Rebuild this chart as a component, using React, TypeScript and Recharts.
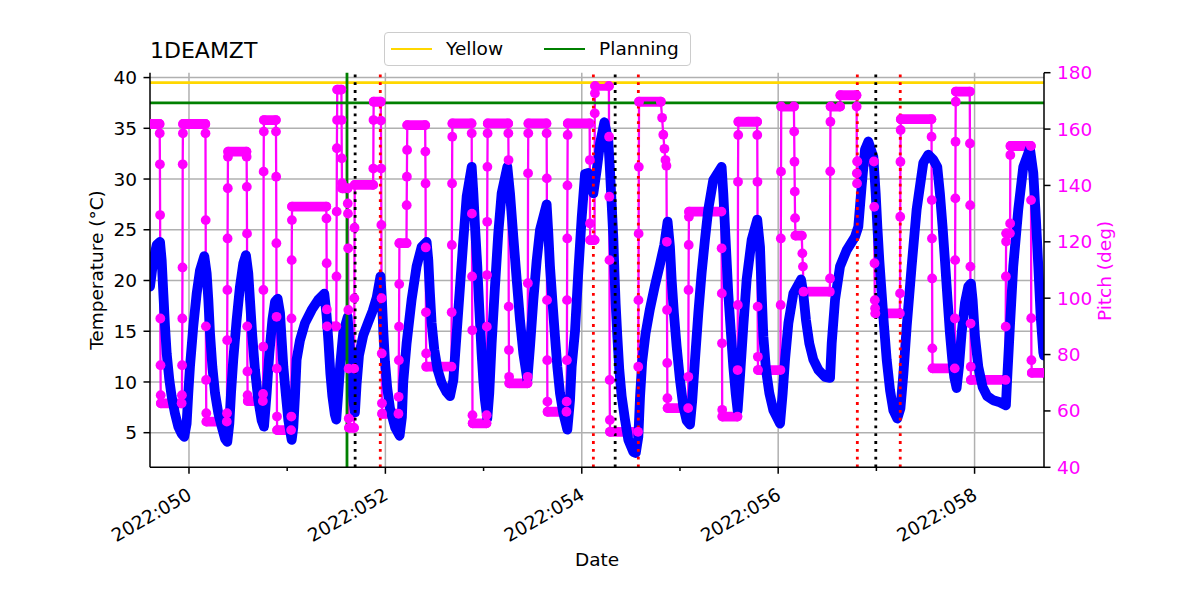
import React from 'react';
import { LineChart, Line, XAxis, YAxis, CartesianGrid, ReferenceLine, Legend } from 'recharts';

const FONT = '"DejaVu Sans", sans-serif';

// ---- axes ----
const dayDomain: [number, number] = [49.603, 58.707];
const tempDomain: [number, number] = [1.59, 40.48];
const pitchDomain: [number, number] = [40, 180];
const dayTicks = [50, 51, 52, 53, 54, 55, 56, 57, 58];
const dayGrid = [50, 52, 54, 56, 58];
const tempTicks = [5, 10, 15, 20, 25, 30, 35, 40];
const pitchTicks = [40, 60, 80, 100, 120, 140, 160, 180];

// ---- limits and events ----
const yellowLimit = 39.5;
const planningLimit = 37.5;
const planningDay = 51.609;
const blackEventDays = [51.692, 54.34, 56.994];
const redEventDays = [51.948, 54.118, 54.576, 56.806, 57.243];

// ---- 1DEAMZT temperature (day of year, deg C) ----
const tempDay = [
  49.603, 49.637, 49.671, 49.705, 49.722, 49.739, 49.756, 49.773, 49.8, 49.823, 49.857, 49.891, 49.925, 49.952,
  49.976, 49.993, 50.01, 50.044, 50.078, 50.112, 50.156, 50.18, 50.197, 50.214, 50.238, 50.265, 50.299, 50.333,
  50.367, 50.39, 50.411, 50.428, 50.451, 50.485, 50.519, 50.553, 50.58, 50.604, 50.621, 50.645, 50.672, 50.706,
  50.74, 50.764, 50.791, 50.818, 50.849, 50.876, 50.903, 50.927, 50.944, 50.961, 50.985, 51.012, 51.046, 51.062,
  51.079, 51.096, 51.13, 51.181, 51.249, 51.317, 51.378, 51.401, 51.42, 51.44, 51.46, 51.485, 51.5, 51.52,
  51.54, 51.571, 51.616, 51.639, 51.656, 51.673, 51.69, 51.707, 51.731, 51.775, 51.826, 51.87, 51.911, 51.95,
  51.965, 51.98, 51.996, 52.019, 52.047, 52.1, 52.145, 52.168, 52.182, 52.216, 52.267, 52.318, 52.369, 52.42,
  52.437, 52.454, 52.471, 52.498, 52.532, 52.573, 52.623, 52.658, 52.692, 52.726, 52.76, 52.794, 52.828, 52.879,
  52.896, 52.913, 52.936, 52.957, 52.98, 52.997, 53.014, 53.038, 53.058, 53.082, 53.116, 53.15, 53.184, 53.242,
  53.269, 53.303, 53.337, 53.371, 53.405, 53.446, 53.473, 53.507, 53.541, 53.575, 53.642, 53.659, 53.676, 53.7,
  53.727, 53.751, 53.778, 53.812, 53.853, 53.88, 53.897, 53.931, 53.965, 53.999, 54.033, 54.067, 54.118, 54.152,
  54.186, 54.23, 54.27, 54.287, 54.304, 54.321, 54.332, 54.345, 54.362, 54.382, 54.406, 54.44, 54.474, 54.525,
  54.55, 54.576, 54.593, 54.615, 54.65, 54.694, 54.745, 54.796, 54.84, 54.874, 54.898, 54.915, 54.938, 54.966,
  55.0, 55.034, 55.068, 55.102, 55.125, 55.153, 55.187, 55.22, 55.254, 55.288, 55.339, 55.424, 55.441, 55.458,
  55.475, 55.492, 55.519, 55.543, 55.567, 55.587, 55.611, 55.645, 55.679, 55.73, 55.787, 55.815, 55.832, 55.849,
  55.876, 55.91, 55.951, 56.019, 56.046, 56.07, 56.104, 56.154, 56.233, 56.256, 56.283, 56.317, 56.358, 56.409,
  56.477, 56.528, 56.545, 56.579, 56.63, 56.698, 56.782, 56.816, 56.85, 56.884, 56.918, 56.969, 56.993, 57.01,
  57.03, 57.054, 57.078, 57.105, 57.139, 57.173, 57.213, 57.245, 57.275, 57.309, 57.359, 57.41, 57.478, 57.529,
  57.579, 57.62, 57.647, 57.674, 57.698, 57.725, 57.749, 57.773, 57.793, 57.817, 57.841, 57.868, 57.902, 57.936,
  57.963, 57.98, 58.004, 58.038, 58.082, 58.129, 58.19, 58.258, 58.319, 58.333, 58.36, 58.394, 58.445, 58.496,
  58.564, 58.598, 58.625, 58.649, 58.673, 58.7, 58.707,
];
const tempDegC = [
  19.4, 22.0, 23.5, 23.8, 22.0, 18.7, 15.5, 12.8, 10.2, 8.6, 6.9, 5.6, 4.9, 4.6,
  5.9, 8.9, 11.5, 15.5, 18.7, 21.0, 22.4, 20.7, 18.1, 14.8, 11.5, 8.9, 6.9, 5.6,
  4.4, 4.1, 5.9, 8.9, 12.2, 16.1, 19.4, 21.7, 22.5, 20.7, 18.1, 14.5, 11.2, 8.2,
  6.2, 5.6, 8.9, 12.8, 16.1, 17.9, 18.2, 16.8, 14.1, 11.5, 8.9, 6.2, 4.3, 5.5,
  8.5, 12.2, 14.1, 15.8, 17.1, 18.1, 18.7, 16.6, 14.0, 10.8, 8.6, 6.8, 6.3, 8.9,
  11.7, 14.9, 16.4, 13.2, 10.3, 8.2, 7.0, 9.8, 12.6, 14.6, 15.9, 17.0, 18.3, 20.4,
  18.0, 14.8, 12.0, 9.4, 7.4, 5.5, 4.7, 6.5, 10.0, 13.8, 18.1, 21.4, 23.3, 23.8,
  22.0, 18.7, 15.8, 13.2, 11.2, 9.9, 9.0, 8.6, 10.2, 14.8, 19.4, 24.0, 28.3, 31.2,
  28.6, 25.3, 21.4, 17.1, 12.8, 10.2, 8.2, 6.4, 8.9, 13.8, 19.4, 24.7, 28.6, 31.2,
  28.6, 24.3, 20.1, 16.1, 12.8, 10.2, 13.5, 18.1, 22.0, 25.0, 27.5, 24.7, 21.4, 18.1,
  14.5, 11.5, 8.9, 6.9, 5.3, 8.2, 11.5, 15.0, 20.9, 26.2, 30.5, 30.6, 28.6, 30.9,
  33.5, 35.6, 33.8, 30.9, 27.6, 24.3, 21.0, 17.7, 14.5, 11.2, 8.6, 6.3, 4.3, 3.1,
  3.0, 4.6, 8.5, 12.0, 14.8, 17.2, 19.5, 21.6, 23.5, 25.8, 23.3, 20.1, 16.8, 13.5,
  10.2, 7.6, 6.2, 5.8, 8.2, 12.2, 16.8, 20.7, 24.0, 27.0, 29.9, 31.2, 28.6, 25.3,
  22.0, 18.7, 14.8, 11.5, 8.9, 7.2, 10.5, 15.5, 20.1, 24.0, 26.0, 23.3, 18.7, 14.5,
  11.2, 8.9, 7.2, 5.9, 8.9, 12.2, 15.8, 18.7, 20.1, 18.7, 16.1, 13.8, 12.2, 11.2,
  10.5, 10.4, 13.8, 18.1, 21.4, 23.0, 24.3, 25.3, 29.3, 32.9, 33.7, 32.2, 28.6, 25.3,
  22.0, 18.7, 15.5, 12.2, 9.2, 7.2, 6.4, 7.4, 10.8, 15.5, 21.4, 27.0, 31.6, 32.4,
  31.9, 31.2, 28.6, 25.3, 22.0, 18.1, 14.8, 12.2, 10.5, 9.4, 11.5, 14.8, 17.8, 19.4,
  19.7, 18.1, 14.5, 11.5, 9.5, 8.6, 8.2, 8.0, 7.7, 10.5, 15.5, 21.4, 27.0, 31.2,
  33.0, 30.6, 26.0, 21.4, 16.5, 12.9, 12.6,
];

// ---- pitch: attitude holds (start day, end day, deg) ----
const holdStart = [
  49.603, 49.714, 49.94, 50.178, 50.399, 50.599, 50.764, 50.898, 51.05, 51.406, 51.51, 51.56, 51.629, 51.688,
  51.881, 51.967, 52.143, 52.223, 52.417, 52.683, 52.889, 53.043, 53.262, 53.457, 53.652, 53.858, 54.086, 54.136,
  54.288, 54.583, 54.874, 55.093, 55.432, 55.595, 55.795, 56.031, 56.176, 56.258, 56.534, 56.634, 56.806, 56.99,
  57.249, 57.572, 57.81, 57.963, 58.323, 58.366, 58.583,
];
const holdEnd = [
  49.7, 49.925, 50.166, 50.385, 50.585, 50.752, 50.884, 51.04, 51.398, 51.5, 51.552, 51.615, 51.68, 51.875,
  51.953, 52.133, 52.215, 52.405, 52.673, 52.877, 53.029, 53.25, 53.447, 53.64, 53.844, 54.08, 54.13, 54.276,
  54.573, 54.805, 55.083, 55.422, 55.585, 55.785, 56.023, 56.16, 56.24, 56.526, 56.63, 56.797, 56.975, 57.239,
  57.56, 57.798, 57.951, 58.315, 58.36, 58.573, 58.707,
];
const holdDeg = [
  161.8, 62.7, 161.8, 56.2, 152.0, 63.5, 163.2, 53.2, 132.5, 90.0, 174.0, 139.0, 54.0, 140.2,
  169.7, 59.0, 119.5, 161.4, 75.7, 162.0, 55.6, 162.0, 69.8, 162.0, 59.7, 162.0, 120.6, 175.3,
  52.6, 169.7, 61.0, 130.7, 58.0, 162.6, 74.5, 168.0, 122.2, 102.3, 168.0, 172.0, 148.5, 94.6,
  163.5, 75.1, 173.3, 71.0, 123.0, 154.0, 73.5,
];

// ---- pitch: samples during slews (day, deg) ----
const slewDay = [
  49.702, 49.704, 49.706, 49.708, 49.71, 49.712,
  49.928, 49.93, 49.932, 49.934, 49.936, 49.938,
  50.168, 50.17, 50.172, 50.174, 50.176,
  50.387, 50.389, 50.391, 50.393, 50.395, 50.397,
  50.587, 50.589, 50.591, 50.593, 50.595, 50.597,
  50.754, 50.756, 50.758, 50.76, 50.762,
  50.886, 50.888, 50.89, 50.892, 50.894, 50.896,
  51.042, 51.044, 51.046, 51.048,
  51.4, 51.402, 51.404,
  51.502, 51.504, 51.506, 51.508,
  51.554, 51.556, 51.558,
  51.617, 51.619, 51.621, 51.623, 51.625, 51.627,
  51.682, 51.684, 51.686,
  51.877, 51.879,
  51.955, 51.957, 51.959, 51.961, 51.963, 51.965,
  52.135, 52.137, 52.139, 52.141,
  52.217, 52.219, 52.221,
  52.407, 52.409, 52.411, 52.413, 52.415,
  52.675, 52.677, 52.679, 52.681,
  52.879, 52.881, 52.883, 52.885, 52.887,
  53.031, 53.033, 53.035, 53.037, 53.039, 53.041,
  53.252, 53.254, 53.256, 53.258, 53.26,
  53.449, 53.451, 53.453, 53.455,
  53.642, 53.644, 53.646, 53.648, 53.65,
  53.846, 53.848, 53.85, 53.852, 53.854, 53.856,
  54.082, 54.084,
  54.132, 54.134,
  54.278, 54.28, 54.282, 54.284, 54.286,
  54.575, 54.577, 54.579, 54.581,
  54.818, 54.83, 54.842, 54.852, 54.862, 54.866, 54.868, 54.87, 54.872,
  55.085, 55.087, 55.089, 55.091,
  55.424, 55.426, 55.428, 55.43,
  55.587, 55.589, 55.591, 55.593,
  55.787, 55.789, 55.791, 55.793,
  56.025, 56.027, 56.029,
  56.163, 56.166, 56.169, 56.172,
  56.246, 56.252,
  56.528, 56.53, 56.532,
  56.799, 56.801, 56.803,
  56.978, 56.981, 56.984, 56.987,
  57.241, 57.243, 57.245, 57.247,
  57.562, 57.564, 57.566, 57.568, 57.57,
  57.8, 57.802, 57.804, 57.806, 57.808,
  57.953, 57.955, 57.957, 57.959, 57.961,
  58.317, 58.319, 58.321,
  58.362, 58.364,
  58.575, 58.577, 58.579,
];
const slewDeg = [
  158.5, 147.5, 129.5, 92.8, 76.2, 65.6,
  65.6, 76.2, 92.8, 110.9, 147.5, 158.5,
  158.5, 127.7, 90.0, 71.0, 59.2,
  59.2, 85.1, 102.9, 121.2, 139.0, 150.2,
  150.2, 139.5, 122.9, 90.0, 74.0, 65.6,
  66.0, 82.8, 102.9, 144.9, 159.1,
  159.1, 143.1, 119.5, 93.4, 75.0, 58.0,
  58.0, 92.8, 113.5, 127.7,
  128.3, 112.4, 96.0,
  107.7, 130.7, 153.2, 163.2,
  163.2, 149.6, 140.8,
  133.6, 130.0, 117.7, 95.8, 75.0, 57.3,
  75.0, 100.0, 125.0,
  146.0, 163.2,
  163.0, 146.0, 126.0, 100.0, 80.4, 62.7,
  65.0, 78.0, 89.9, 105.0,
  133.0, 143.1, 152.6,
  152.0, 140.7, 118.0, 95.0, 80.4,
  95.0, 118.9, 140.7, 157.3,
  158.5, 130.0, 107.7, 88.6, 58.5,
  58.5, 89.9, 108.2, 127.1, 146.6, 158.5,
  158.5, 149.0, 97.0, 81.6, 72.1,
  72.1, 105.3, 144.3, 158.5,
  158.5, 142.5, 99.3, 78.0, 63.3,
  63.3, 78.0, 99.3, 121.2, 140.0, 157.9,
  149.0, 126.5,
  165.6, 172.7,
  157.3, 136.0, 113.5, 71.0, 56.8,
  75.7, 99.3, 122.9, 146.6,
  164.0, 158.0, 153.0, 149.0, 147.0, 120.0, 95.8, 77.0, 64.5,
  72.1, 102.9, 118.9, 128.9,
  117.7, 101.7, 84.0, 60.4,
  74.5, 97.6, 141.3, 157.9,
  157.9, 141.3, 97.0, 79.2,
  97.6, 121.2, 144.9,
  159.1, 148.4, 137.8, 128.4,
  115.9, 111.2,
  107.0, 145.0, 162.6,
  168.0, 144.3, 140.7,
  132.4, 112.4, 99.3, 96.4,
  101.7, 128.9, 148.4, 159.7,
  157.3, 134.8, 121.2, 107.0, 82.2,
  92.8, 113.5, 135.4, 155.5, 169.7,
  154.9, 133.0, 111.2, 91.0, 75.7,
  89.9, 107.7, 120.1,
  126.5, 150.8,
  134.8, 92.9, 78.0,
];

// ---- tables for the library ----
const tempData = tempDay.map((t, i) => ({ t, v: tempDegC[i] }));
const pitchData = [
  ...holdStart.map((t, i) => ({ t, p: holdDeg[i] })),
  ...holdEnd.map((t, i) => ({ t, p: holdDeg[i] })),
  ...slewDay.map((t, i) => ({ t, p: slewDeg[i] })),
].sort((a, b) => a.t - b.t);
const holdData = holdStart.flatMap((s, i) => [
  { t: s, h: holdDeg[i] as number | null },
  { t: holdEnd[i], h: holdDeg[i] as number | null },
  { t: holdEnd[i], h: null as number | null },
]);

const legendItems = [
  { name: 'Yellow', color: '#ffd700' },
  { name: 'Planning', color: '#008000' },
];

const dayLabel = (v: number) => `2022:${String(Math.round(v)).padStart(3, '0')}`;

function DayTick(props: any) {
  const { x, y, payload } = props;
  const v = Math.round(payload.value as number);
  const major = v % 2 === 0;
  const ax = x + 4;
  const ay = y + 31;
  return (
    <g>
      <line x1={x} x2={x} y1={y} y2={y + (major ? 6.5 : 3.7)} stroke="#000" strokeWidth={1.5} />
      {major ? (
        <text
          x={ax}
          y={ay}
          transform={`rotate(-30 ${ax} ${ay})`}
          textAnchor="end"
          fontSize={18.5}
          fontFamily={FONT}
          fill="#000"
        >
          {dayLabel(v)}
        </text>
      ) : null}
    </g>
  );
}

function LegendBox() {
  return (
    <div
      style={{
        position: 'relative',
        boxSizing: 'border-box',
        width: 307,
        height: 34,
        border: '1px solid #cccccc',
        borderRadius: 4,
        background: 'rgba(255,255,255,0.8)',
        fontFamily: FONT,
        fontSize: 18.5,
        color: '#000',
      }}
    >
      {legendItems.map((it, i) => {
        const base = i === 0 ? 6 : 159;
        return (
          <React.Fragment key={it.name}>
            <div style={{ position: 'absolute', left: base, top: 14.6, width: 41, height: 2.8, background: it.color }} />
            <div style={{ position: 'absolute', left: base + 55.5, top: 4.5, lineHeight: 'normal', whiteSpace: 'nowrap' }}>
              {it.name}
            </div>
          </React.Fragment>
        );
      })}
    </div>
  );
}

const axisStroke = { stroke: '#000', strokeWidth: 1.5 };

export default function App() {
  return (
    <div style={{ position: 'absolute', left: 0, top: 0, width: 1200, height: 600, background: '#fff', fontFamily: FONT }}>
      <LineChart width={1200} height={600} margin={{ top: 72.7, right: 0, bottom: 0, left: 0 }}>
        <CartesianGrid
          yAxisId="left"
          stroke="#b0b0b0"
          strokeWidth={1.5}
          horizontalValues={tempTicks}
          verticalValues={dayGrid}
        />
        <XAxis
          dataKey="t"
          type="number"
          domain={dayDomain}
          allowDataOverflow
          ticks={dayTicks}
          interval={0}
          height={132.7}
          tickSize={0}
          tickMargin={0}
          tickLine={false}
          tick={<DayTick />}
          axisLine={axisStroke}
        />
        <XAxis
          xAxisId="top"
          orientation="top"
          dataKey="t"
          type="number"
          domain={dayDomain}
          allowDataOverflow
          height={0}
          tick={false}
          tickLine={false}
          axisLine={axisStroke}
        />
        <YAxis
          yAxisId="left"
          type="number"
          domain={tempDomain}
          allowDataOverflow
          ticks={tempTicks}
          interval={0}
          width={150}
          tickSize={6.5}
          tickMargin={6.5}
          tick={{ fill: '#000', fontSize: 18.5, fontFamily: FONT }}
          tickLine={axisStroke}
          axisLine={axisStroke}
        />
        <YAxis
          yAxisId="right"
          orientation="right"
          type="number"
          domain={pitchDomain}
          allowDataOverflow
          ticks={pitchTicks}
          interval={0}
          width={156}
          tickSize={6.5}
          tickMargin={6.5}
          tick={{ fill: '#ff00ff', fontSize: 18.5, fontFamily: FONT }}
          tickLine={axisStroke}
          axisLine={axisStroke}
        />
        <Line
          yAxisId="right"
          data={pitchData}
          dataKey="p"
          stroke="#ff00ff"
          strokeWidth={2.3}
          dot={{ r: 4.9, fill: '#ff00ff', stroke: '#ff00ff', strokeWidth: 0 }}
          activeDot={false}
          legendType="none"
          isAnimationActive={false}
        />
        <Line
          yAxisId="right"
          data={holdData}
          dataKey="h"
          stroke="#ff00ff"
          strokeWidth={9.8}
          strokeLinecap="round"
          dot={false}
          activeDot={false}
          legendType="none"
          isAnimationActive={false}
        />
        <Line
          yAxisId="left"
          data={tempData}
          dataKey="v"
          stroke="#0000ff"
          strokeWidth={9.8}
          strokeLinejoin="round"
          strokeLinecap="round"
          dot={false}
          activeDot={false}
          legendType="none"
          isAnimationActive={false}
        />
        <ReferenceLine yAxisId="left" y={yellowLimit} stroke="#ffd700" strokeWidth={2.8} />
        <ReferenceLine yAxisId="left" y={planningLimit} stroke="#008000" strokeWidth={2.8} />
        <ReferenceLine yAxisId="left" x={planningDay} stroke="#008000" strokeWidth={2.8} />
        {blackEventDays.map((d) => (
          <ReferenceLine key={`k${d}`} yAxisId="left" x={d} stroke="#000" strokeWidth={2.8} strokeDasharray="2.8 5" />
        ))}
        {redEventDays.map((d) => (
          <ReferenceLine key={`r${d}`} yAxisId="left" x={d} stroke="#ff0000" strokeWidth={2.8} strokeDasharray="2.8 5" />
        ))}
        <Legend
          layout="horizontal"
          verticalAlign="middle"
          align="center"
          content={() => <LegendBox />}
          wrapperStyle={{ position: 'absolute', left: 383.6, top: 32, width: 307, height: 34 }}
        />
      </LineChart>
      <div style={{ position: 'absolute', left: 150, top: 38.3, fontSize: 22, lineHeight: 'normal', color: '#000', whiteSpace: 'nowrap' }}>
        1DEAMZT
      </div>
      <div
        style={{
          position: 'absolute',
          left: 95.5,
          top: 270,
          fontSize: 18.5,
          lineHeight: 'normal',
          whiteSpace: 'nowrap',
          transform: 'translate(-50%, -50%) rotate(-90deg)',
          color: '#000',
        }}
      >
        Temperature (°C)
      </div>
      <div
        style={{
          position: 'absolute',
          left: 1104,
          top: 271,
          fontSize: 18.5,
          lineHeight: 'normal',
          whiteSpace: 'nowrap',
          transform: 'translate(-50%, -50%) rotate(-90deg)',
          color: '#ff00ff',
        }}
      >
        Pitch (deg)
      </div>
      <div
        style={{
          position: 'absolute',
          left: 597,
          top: 558.6,
          fontSize: 18.5,
          lineHeight: 'normal',
          whiteSpace: 'nowrap',
          transform: 'translate(-50%, -50%)',
          color: '#000',
        }}
      >
        Date
      </div>
    </div>
  );
}
